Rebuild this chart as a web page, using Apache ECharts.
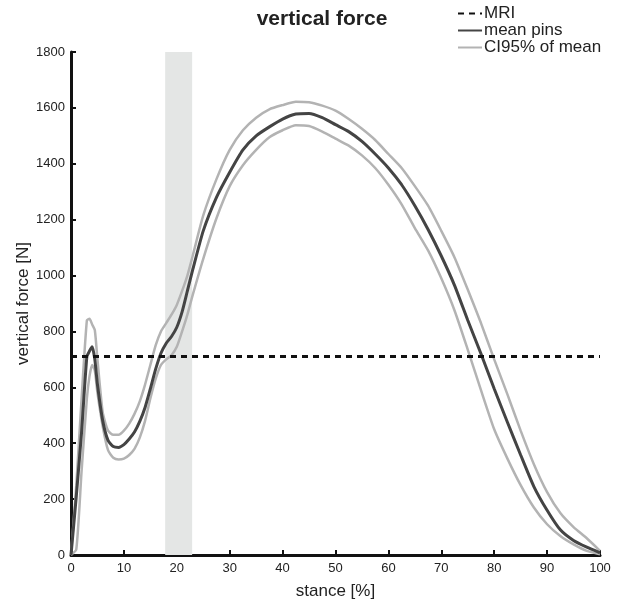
<!DOCTYPE html>
<html>
<head>
<meta charset="utf-8">
<script src="https://cdn.jsdelivr.net/npm/echarts@6/dist/echarts.min.js"></script>
<style>
  html, body { margin:0; padding:0; background:#fff; }
  #chart { width:620px; height:601px; }
</style>
</head>
<body>
<div id="chart"></div>
<script>
// stance [%] sample positions
var stance = [0,1,2,3,3.5,4,4.5,5,6,7,8,9,10,11,12,13,14,15,16,17,18,19,20,21,22,23,25,27.5,30,32.5,35,37.5,40,42.5,45,47.5,50,52.5,55,57.5,60,62.5,65,67.5,70,72.5,75,77.5,80,82.5,85,87.5,90,92.5,95,97.5,100];
// mean pins vertical force [N]
var meanPins = [0,210,440,710,730,745,700,610,480,410,388,385,395,415,440,478,528,595,665,722,758,782,815,870,945,1020,1160,1280,1370,1450,1500,1532,1560,1578,1580,1565,1540,1515,1480,1435,1385,1325,1250,1165,1070,965,840,720,595,475,358,245,160,90,52,28,8];
// CI95% upper / lower
var ciUpper = [0,250,560,840,845,825,805,700,510,445,430,430,445,470,505,550,610,680,750,800,830,860,895,945,1000,1070,1215,1345,1450,1520,1565,1595,1610,1622,1620,1608,1590,1560,1525,1485,1435,1385,1320,1250,1160,1065,950,830,700,575,445,325,225,150,100,60,15];
var ciLower = [0,20,300,560,640,680,660,580,460,375,348,342,345,358,380,420,480,560,630,680,700,715,745,800,860,930,1060,1205,1320,1395,1450,1495,1520,1538,1535,1515,1490,1465,1430,1385,1325,1255,1170,1090,990,875,735,590,450,345,250,170,110,68,38,15,3];
// MRI reference level [N]
var mriLevel = 710;
// shaded stance window [%]
var shadeWindow = [17.8, 22.9];

function pairs(ys) {
    var out = [];
    for (var i = 0; i < stance.length; i++) out.push([stance[i], ys[i]]);
    return out;
}

var chart = echarts.init(document.getElementById('chart'));
var font = 'Liberation Sans, Arial, sans-serif';

var option = {
    animation: false,
    title: {
        text: 'vertical force',
        left: 317,
        textAlign: 'center',
        top: 4,
        textStyle: { fontFamily: font, fontSize: 21, fontWeight: 'bold', color: '#222' }
    },
    legend: {
        orient: 'vertical',
        left: 452,
        top: 0,
        itemGap: 0,
        itemWidth: 24,
        itemHeight: 10,
        itemStyle: { opacity: 0 },
        textStyle: { fontFamily: font, fontSize: 17, lineHeight: 16.5, color: '#222', padding: [0, 0, 0, -3] },
        data: ['MRI', 'mean pins', 'CI95% of mean']
    },
    grid: { left: 71, right: 20, top: 52, bottom: 46, outerBoundsMode: 'none', containLabel: false },
    xAxis: {
        type: 'value',
        min: 0, max: 100, interval: 10,
        name: 'stance [%]',
        nameLocation: 'middle',
        nameGap: 28,
        nameMoveOverlap: false,
        nameTextStyle: { fontFamily: font, fontSize: 17, color: '#222' },
        axisLine: { lineStyle: { color: '#111', width: 3 } },
        axisTick: { inside: true, length: 5, lineStyle: { color: '#111', width: 2 } },
        axisLabel: { fontFamily: font, fontSize: 13, color: '#222', margin: 7 },
        splitLine: { show: false }
    },
    yAxis: {
        type: 'value',
        min: 0, max: 1800, interval: 200,
        name: 'vertical force [N]',
        nameLocation: 'middle',
        nameGap: 39,
        nameMoveOverlap: false,
        nameTextStyle: { fontFamily: font, fontSize: 17, color: '#222' },
        axisLine: { show: true, lineStyle: { color: '#111', width: 3 } },
        axisTick: { show: true, inside: true, length: 5, lineStyle: { color: '#111', width: 2 } },
        axisLabel: { fontFamily: font, fontSize: 13, color: '#222', margin: 6, formatter: function (v) { return String(v); } },
        splitLine: { show: false }
    },
    series: [
        {
            name: 'MRI',
            type: 'line',
            data: [[0, mriLevel], [100, mriLevel]],
            symbol: 'none',
            z: 5,
            lineStyle: { color: '#111', width: 3, type: [6, 5] },
            itemStyle: { color: '#111' },
            markArea: {
                silent: true,
                itemStyle: { color: '#e4e6e5' },
                data: [[{ xAxis: shadeWindow[0], yAxis: 0 }, { xAxis: shadeWindow[1], yAxis: 1800 }]]
            }
        },
        {
            name: 'CI95% of mean',
            type: 'line',
            data: pairs(ciUpper),
            symbol: 'none',
            smooth: 0.2,
            z: 3,
            lineStyle: { color: '#b3b3b3', width: 2.5 },
            itemStyle: { color: '#b3b3b3' }
        },
        {
            name: 'CI95% of mean',
            type: 'line',
            data: pairs(ciLower),
            symbol: 'none',
            smooth: 0.2,
            z: 3,
            lineStyle: { color: '#b3b3b3', width: 2.5 },
            itemStyle: { color: '#b3b3b3' }
        },
        {
            name: 'mean pins',
            type: 'line',
            data: pairs(meanPins),
            symbol: 'none',
            smooth: 0.2,
            z: 4,
            lineStyle: { color: '#444', width: 3 },
            itemStyle: { color: '#444' }
        }
    ]
};
chart.setOption(option);
</script>
</body>
</html>
